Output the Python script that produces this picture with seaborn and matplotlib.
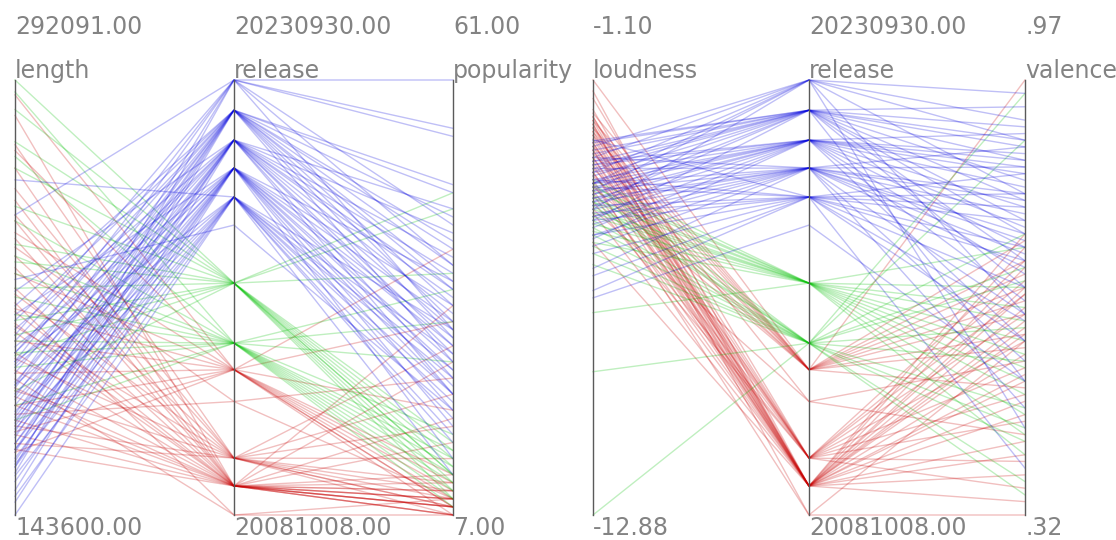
import numpy as np
import pandas as pd
import seaborn as sns
import matplotlib.pyplot as plt

# one entry per song, grouped by release date
release = ([20230930] * 6 + [20220520] * 12 + [20210226] * 12 + [20200605] * 12 +
           [20190607] * 10 + [20180928] * 1 + [20160923] * 12 + [20140228] * 12 +
           [20131101] * 10 + [20120120] * 2 + [20100618] * 10 + [20091009] * 18 +
           [20081008] * 2)

length = [
    205000, 188000, 172000, 246000, 160000, 196000,
    178000, 192000, 165000, 210000, 184000, 170000, 199000, 158000, 215000, 187000, 175000, 203000,
    168000, 181000, 195000, 162000, 207000, 174000, 189000, 152000, 220000, 177000, 199000, 166000,
    160000, 171000, 183000, 155000, 194000, 168000, 176000, 148000, 212000, 185000, 163000, 201000,
    157000, 166000, 179000, 143600, 188000, 161000, 173000, 258000, 196000, 150000,
    224000,
    292091, 282000, 271000, 262000, 249000, 236000, 221000, 210000, 198000, 186000, 230000, 205000,
    288000, 266000, 244000, 232000, 218000, 203000, 194000, 181000, 176000, 212000, 226000, 199000,
    287000, 268000, 240000, 226000, 214000, 203000, 192000, 181000, 172000, 165000,
    235000, 178000,
    270000, 255000, 232000, 219000, 208000, 197000, 186000, 174000, 168000, 246000,
    280000, 262000, 251000, 238000, 228000, 221000, 213000, 206000, 199000, 193000, 187000, 181000,
    176000, 171000, 166000, 244000, 209000, 184000,
    216000, 190000,
]

popularity = [
    61, 55, 54, 38, 30, 43,
    47, 44, 40, 36, 33, 41, 29, 38, 26, 35, 31, 48,
    42, 37, 34, 30, 27, 39, 32, 24, 35, 28, 45, 22,
    36, 31, 28, 25, 22, 33, 20, 18, 29, 14, 26, 23,
    27, 24, 21, 19, 16, 30, 12, 25, 17, 22,
    20,
    47, 45, 14, 12, 10, 16, 11, 13, 37, 9, 15, 12,
    35, 31, 26, 13, 11, 10, 15, 9, 12, 17, 14, 8,
    40, 31, 10, 8, 9, 12, 7, 11, 20, 8,
    24, 9,
    28, 22, 10, 8, 9, 11, 7, 14, 8, 18,
    33, 26, 19, 8, 9, 7, 10, 8, 11, 7, 9, 12, 8, 10, 7, 16, 9, 8,
    9, 7,
]

loudness = [
    -3.2, -4.1, -2.9, -3.6, -4.6, -3.9,
    -3.0, -3.4, -2.8, -4.2, -3.7, -3.1, -4.9, -3.5, -2.75, -4.4, -3.3, -3.9,
    -3.8, -4.0, -3.3, -4.5, -3.6, -5.1, -4.2, -3.9, -4.8, -3.4, -4.3, -5.4,
    -4.1, -4.6, -3.5, -5.0, -4.4, -3.2, -5.6, -4.8, -3.9, -6.2, -4.3, -5.3,
    -4.7, -4.0, -5.3, -6.8, -4.5, -3.8, -5.8, -2.72, -6.4, -4.9,
    -7.0,
    -4.0, -4.3, -4.6, -3.8, -5.0, -4.4, -4.8, -5.2, -4.1, -5.5, -7.4, -4.7,
    -3.9, -4.2, -5.1, -4.5, -5.6, -4.9, -6.1, -5.3, -4.4, -9.0, -12.88, -5.8,
    -1.1, -2.0, -2.4, -3.1, -2.6, -3.5, -2.2, -4.0, -2.9, -3.7,
    -2.5, -4.6,
    -1.6, -2.1, -2.7, -3.2, -2.4, -3.6, -3.0, -4.1, -2.8, -4.4,
    -1.9, -2.3, -2.6, -1.4, -3.0, -2.2, -3.4, -2.8, -3.9, -2.5, -3.2, -4.2,
    -2.9, -3.6, -4.7, -2.1, -5.5, -3.3,
    -2.3, -3.8,
]

valence = [
    0.95, 0.91, 0.88, 0.62, 0.45, 0.80,
    0.93, 0.85, 0.90, 0.76, 0.82, 0.70, 0.88, 0.66, 0.79, 0.52, 0.87, 0.74,
    0.86, 0.84, 0.83, 0.72, 0.89, 0.78, 0.68, 0.81, 0.58, 0.85, 0.75, 0.64,
    0.84, 0.77, 0.80, 0.69, 0.73, 0.87, 0.62, 0.74, 0.55, 0.79, 0.48, 0.71,
    0.76, 0.72, 0.66, 0.80, 0.61, 0.83, 0.58, 0.78, 0.39, 0.70,
    0.52,
    0.52, 0.61, 0.56, 0.47, 0.58, 0.44, 0.66, 0.50, 0.72, 0.41, 0.63, 0.54,
    0.95, 0.88, 0.74, 0.60, 0.48, 0.37, 0.43, 0.67, 0.55, 0.45, 0.69, 0.35,
    0.97, 0.73, 0.70, 0.62, 0.68, 0.57, 0.66, 0.51, 0.59, 0.64,
    0.55, 0.44,
    0.70, 0.65, 0.58, 0.50, 0.62, 0.46, 0.54, 0.40, 0.67, 0.36,
    0.74, 0.69, 0.61, 0.72, 0.56, 0.66, 0.49, 0.63, 0.43, 0.59, 0.52, 0.38,
    0.65, 0.47, 0.34, 0.60, 0.53, 0.41,
    0.32, 0.58,
]

panels = [["length", "release", "popularity"], ["loudness", "release", "valence"]]

songs = pd.DataFrame({"length": length, "release": release, "popularity": popularity,
                      "loudness": loudness, "valence": valence})
songs["era"] = np.where(songs.release >= 20180000, "new",
                        np.where(songs.release >= 20140000, "mid", "old"))
songs["song"] = range(len(songs))

palette = {"new": "#0000dd", "mid": "#00c000", "old": "#c80000"}
txt_color = "#838383"


def fmt(v):
    s = f"{v:.2f}"
    if abs(v) < 1:
        s = s.replace("0.", ".", 1)
    return s


fig = plt.figure(figsize=(11.16, 5.4), dpi=100)
ax_pos = [[15 / 1116, 25 / 540, 438 / 1116, 435 / 540],
          [593 / 1116, 25 / 540, 432 / 1116, 435 / 540]]

for cols, pos in zip(panels, ax_pos):
    ax = fig.add_axes(pos)
    long = []
    for i, c in enumerate(cols):
        lo, hi = songs[c].min(), songs[c].max()
        part = songs[["song", "era"]].copy()
        part["x"] = i
        part["y"] = (songs[c] - lo) / (hi - lo)
        long.append(part)
    long = pd.concat(long, ignore_index=True)

    sns.lineplot(data=long, x="x", y="y", hue="era", units="song", estimator=None,
                 palette=palette, hue_order=["old", "mid", "new"], sort=False,
                 alpha=0.25, lw=1, legend=False, ax=ax, clip_on=False)

    for i, c in enumerate(cols):
        ax.plot([i, i], [0, 1], color="#5a5a5a", lw=1, clip_on=False, zorder=5)
        ax.text(i, 1.106, fmt(songs[c].max()), fontsize=17, color=txt_color, ha="left", va="baseline")
        ax.text(i, 1.005, c, fontsize=17, color=txt_color, ha="left", va="baseline")
        ax.text(i, -0.046, fmt(songs[c].min()), fontsize=17, color=txt_color, ha="left", va="baseline")

    ax.set_xlim(0, 2)
    ax.set_ylim(0, 1)
    ax.set_axis_off()

fig.savefig("out.png", dpi=100)
